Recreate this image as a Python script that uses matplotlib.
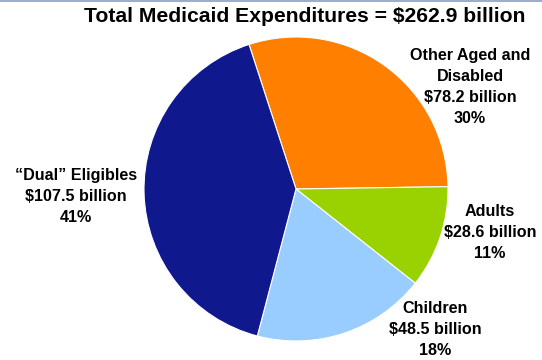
import matplotlib
matplotlib.use("Agg")
import matplotlib.pyplot as plt
from matplotlib.lines import Line2D

plt.rcParams['font.family'] = ['Liberation Sans', 'DejaVu Sans']

# Medicaid spending by eligibility group, billions of dollars
groups = ['Other Aged and\nDisabled', 'Adults', 'Children', '\u201cDual\u201d Eligibles']
spending = [78.2, 28.6, 48.5, 107.5]
shares = [30, 11, 18, 41]
colors = ['#FF7F00', '#99D200', '#99CCFF', '#0F188C']
total = 262.9

W, H = 542, 360
fig = plt.figure(figsize=(W / 100, H / 100), dpi=100)

# pie centre / radius in pixels
cx, cy, r = 296, 189, 152
ax = fig.add_axes([(cx - r) / W, (H - cy - r) / H, 2 * r / W, 2 * r / H])
ax.pie(spending, colors=colors, startangle=108, counterclock=False,
       wedgeprops=dict(edgecolor='white', linewidth=0.8))
ax.set_xlim(-1.0, 1.0)
ax.set_ylim(-1.0, 1.0)
ax.set_aspect('auto')
ax.axis('off')

fig.text(305 / W, 1 - 17 / H, 'Total Medicaid Expenditures = $%.1f billion' % total,
         ha='center', va='center', fontsize=15.2, fontweight='bold')

# label anchor (x, y of first line centre) in pixels
label_pos = [(470, 56), (490, 212), (435, 309), (76, 176)]
for name, val, pct, (lx, ly) in zip(groups, spending, shares, label_pos):
    txt = '%s\n$%.1f billion\n%d%%' % (name, val, pct)
    fig.text(lx / W, 1 - (ly - 8) / H, txt, ha='center', va='top',
             fontsize=11.6, fontweight='bold', linespacing=1.5)

# thin rule along the top edge
fig.add_artist(Line2D([0, 1], [1 - 0.8 / H, 1 - 0.8 / H], transform=fig.transFigure,
                      color='#8C9BD0', linewidth=1.2))

fig.savefig('out.png', dpi=100)
